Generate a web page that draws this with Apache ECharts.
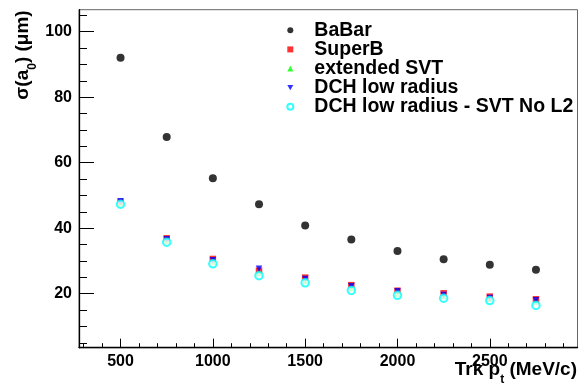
<!DOCTYPE html>
<html><head><meta charset="utf-8">
<script src="https://cdn.jsdelivr.net/npm/echarts@6/dist/echarts.min.js"></script>
<style>html,body{margin:0;padding:0;background:#fff}#c{width:584px;height:388px}</style>
</head><body><div id="c"></div>
<script>
const pt = [500, 750, 1000, 1250, 1500, 1750, 2000, 2250, 2500, 2750];
const babar = [92.0, 67.8, 55.2, 47.3, 40.8, 36.5, 33.0, 30.5, 28.8, 27.3];
const superB = [48.0, 36.9, 30.6, 27.0, 24.9, 22.6, 20.9, 20.1, 19.1, 18.3];
const extSVT = [47.5, 36.1, 29.8, 26.2, 23.9, 21.6, 20.0, 19.2, 18.4, 17.5];
const dchLow = [48.2, 36.6, 30.2, 27.6, 24.5, 22.3, 20.7, 19.6, 18.7, 18.0];
const dchNoL2 = [47.3, 35.7, 29.1, 25.5, 23.3, 21.0, 19.5, 18.6, 17.9, 16.4];
const xMajor = [500, 1000, 1500, 2000, 2500];
const xMinor = [300, 400, 600, 700, 800, 900, 1100, 1200, 1300, 1400, 1600, 1700, 1800, 1900, 2100, 2200, 2300, 2400, 2600, 2700, 2800, 2900];
const yMajor = [20, 40, 60, 80, 100];
const yMinor = [5, 10, 15, 25, 30, 35, 45, 50, 55, 65, 70, 75, 85, 90, 95, 105];
const names = ['BaBar', 'SuperB', 'extended SVT', 'DCH low radius', 'DCH low radius - SVT No L2'];

const FONT = 'Liberation Sans, Arial, Helvetica, sans-serif';
const pairs = ys => pt.map((x, i) => [x, ys[i]]);
const downTri = 'path://M0,0L10,0L5,9Z';

const chart = echarts.init(document.getElementById('c'), null, {renderer: 'canvas'});
const XMIN = 275, XMAX = 2975, YMIN = 3.5, YMAX = 106.7;
const baseX = {type: 'value', min: XMIN, max: XMAX, position: 'bottom', splitLine: {show: false}};
const baseY = {type: 'value', min: YMIN, max: YMAX, position: 'left', offset: 0, splitLine: {show: false}};
chart.setOption({
  animation: false,
  backgroundColor: '#fff',
  grid: {left: 79, right: 6.5, top: 9.7, bottom: 40.3, show: true, borderColor: '#666', borderWidth: 1, outerBoundsMode: 'none'},
  xAxis: [
    Object.assign({}, baseX, {
      axisLine: {lineStyle: {color: '#000', width: 1.3}},
      axisTick: {inside: true, length: 9, customValues: xMajor, lineStyle: {color: '#000'}},
      axisLabel: {customValues: xMajor, formatter: v => String(v), color: '#000', fontWeight: 'bold', fontSize: 16, fontFamily: FONT, margin: 6}
    }),
    Object.assign({}, baseX, {
      axisLine: {show: false},
      axisTick: {inside: true, length: 4.5, customValues: xMinor, lineStyle: {color: '#000'}},
      axisLabel: {show: false}
    })
  ],
  yAxis: [
    Object.assign({}, baseY, {
      axisLine: {show: true, lineStyle: {color: '#000', width: 1.3}},
      axisTick: {show: true, inside: true, length: 15, customValues: yMajor, lineStyle: {color: '#000'}},
      axisLabel: {customValues: yMajor, formatter: v => String(v), color: '#000', fontWeight: 'bold', fontSize: 16, fontFamily: FONT, margin: 7}
    }),
    Object.assign({}, baseY, {
      axisLine: {show: false},
      axisTick: {show: true, inside: true, length: 8, customValues: yMinor, lineStyle: {color: '#000'}},
      axisLabel: {show: false}
    })
  ],
  legend: {
    orient: 'vertical', left: 286.3, top: 20.3, padding: 0,
    itemWidth: 6, itemHeight: 6, itemGap: -0.9,
    textStyle: {color: '#000', fontWeight: 'bold', fontSize: 19.5, fontFamily: FONT, lineHeight: 19, padding: [0, 0, 0, 16]},
    data: names
  },
  series: [
    {name: names[0], type: 'scatter', data: pairs(babar), symbol: 'circle', symbolSize: 8, itemStyle: {color: '#000'}},
    {name: names[1], type: 'scatter', data: pairs(superB), symbol: 'rect', symbolSize: 6.5, itemStyle: {color: '#ff0000'}},
    {name: names[2], type: 'scatter', data: pairs(extSVT), symbol: 'triangle', symbolSize: 6.5, itemStyle: {color: '#00ff00'}},
    {name: names[3], type: 'scatter', data: pairs(dchLow), symbol: downTri, symbolSize: 6.5, itemStyle: {color: '#0000ff'}},
    {name: names[4], type: 'scatter', data: pairs(dchNoL2), symbol: 'emptyCircle', symbolSize: 7.5, itemStyle: {color: '#00ffff', borderColor: '#00ffff', borderWidth: 1.3}}
  ],
  graphic: [
    {type: 'text', x: 26, y: 55, rotation: Math.PI / 2,
     style: {text: '{a|σ(a}{s|0}{a|) (μm)}', align: 'center', verticalAlign: 'middle', fill: '#000',
       rich: {a: {fontSize: 19, fontWeight: 'bold', fontFamily: FONT, lineHeight: 19, verticalAlign: 'top'},
              s: {fontSize: 12, fontWeight: 'bold', fontFamily: FONT, lineHeight: 25, verticalAlign: 'bottom'}}}},
    {type: 'text', x: 577, y: 373,
     style: {text: '{a|Trk p}{s|t}{a| (MeV/c)}', align: 'right', verticalAlign: 'middle', fill: '#000',
       rich: {a: {fontSize: 19, fontWeight: 'bold', fontFamily: FONT, lineHeight: 19, verticalAlign: 'top'},
              s: {fontSize: 12, fontWeight: 'bold', fontFamily: FONT, lineHeight: 25, verticalAlign: 'bottom'}}}}
  ]
});
</script></body></html>
